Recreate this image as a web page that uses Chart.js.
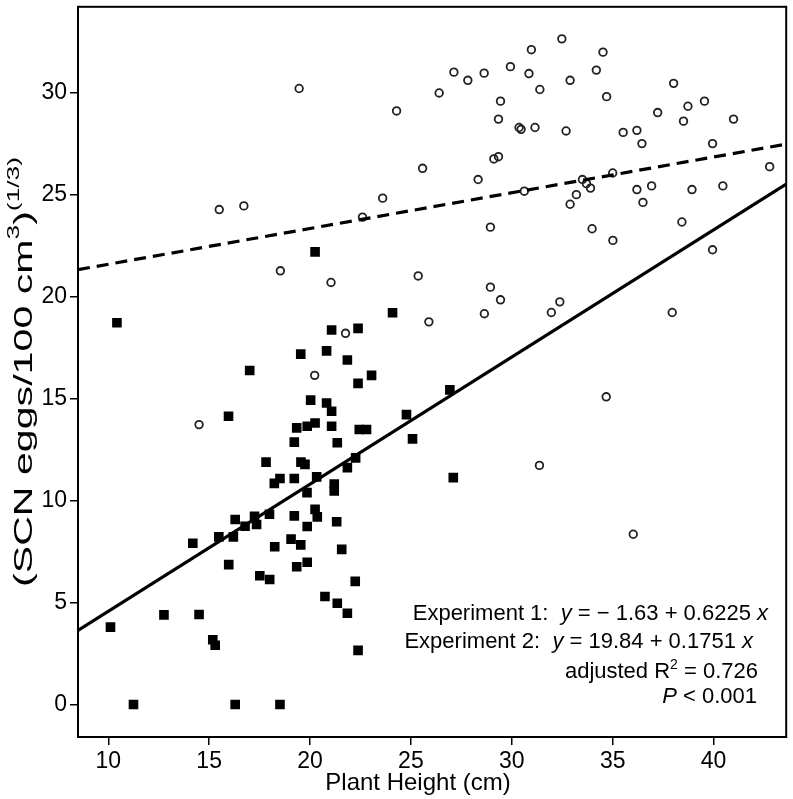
<!DOCTYPE html>
<html>
<head>
<meta charset="utf-8">
<script src="https://cdn.jsdelivr.net/npm/chart.js@4.4.0/dist/chart.umd.min.js"></script>
<style>
  body { margin: 0; background: #fff; }
  #wrap { position: relative; width: 793px; height: 799px; }
</style>
</head>
<body>
<div id="wrap"><canvas id="scnChart"></canvas></div>
<script>
// Experiment 1 (filled squares)
var exp1X = [10.43, 20.25, 24.09, 21.07, 22.38, 19.54, 20.82, 21.85, 17.01, 23.05,
  22.38, 20.03, 20.82, 21.07, 15.96, 26.93, 24.78, 19.34, 19.86, 20.25,
  21.07, 22.44, 22.8, 25.08, 19.22, 21.35, 17.82, 19.55, 19.75, 22.26,
  21.85, 18.51, 18.23, 19.22, 20.33, 21.2, 21.2, 19.85, 27.1, 10.11,
  11.25, 12.76, 14.5, 14.19, 15.18, 15.3, 16.29, 18.51, 15.97, 15.48,
  16.2, 16.29, 16.78, 17.25, 17.35, 17.99, 19.22, 20.25, 20.36, 21.32,
  19.86, 18.25, 19.06, 19.54, 21.57, 17.51, 18.0, 19.34, 19.86, 22.24,
  20.74, 21.35, 21.85, 22.38];
var exp1Y = [18.73, 22.2, 19.22, 18.37, 18.45, 17.19, 17.35, 16.9, 16.39, 16.15,
  15.76, 14.94, 14.8, 14.39, 14.15, 15.44, 14.23, 13.58, 13.66, 13.82,
  13.66, 13.5, 13.5, 13.04, 12.88, 12.85, 11.9, 11.9, 11.79, 12.11,
  11.63, 11.1, 10.86, 11.1, 11.18, 10.83, 10.49, 10.41, 11.14, 3.82,
  0.03, 4.42, 4.44, 7.93, 3.2, 2.93, 0.03, 0.03, 6.88, 8.24,
  8.24, 9.09, 8.76, 9.25, 8.85, 9.35, 9.27, 9.59, 9.22, 8.98,
  8.75, 7.76, 8.13, 7.85, 7.63, 6.34, 6.15, 6.78, 7.0, 6.06,
  5.32, 4.99, 4.5, 2.68];

// Experiment 2 (open circles)
var exp2X = [24.29, 26.4, 27.13, 27.82, 28.63, 29.93, 30.97, 30.85, 31.39, 29.44,
  29.34, 30.36, 30.46, 31.15, 32.48, 32.89, 32.69, 34.19, 34.52, 34.7,
  35.52, 36.2, 36.45, 37.23, 38.02, 38.73, 38.51, 39.55, 40.99, 39.95,
  42.78, 40.46, 38.93, 38.43, 39.95, 36.93, 36.2, 36.5, 35.01, 33.98,
  35.0, 33.5, 33.7, 33.9, 33.2, 32.89, 30.62, 29.11, 29.34, 28.33,
  25.58, 23.6, 28.94, 25.36, 28.94, 29.44, 32.38, 19.46, 22.6, 18.53,
  21.04, 15.5, 16.72, 25.89, 21.76, 20.23, 14.5, 28.64, 31.96, 37.95,
  34.68, 31.37, 36.02];
var exp2Y = [29.1, 29.98, 31.0, 30.6, 30.95, 31.27, 32.1, 30.93, 30.15, 29.58,
  28.7, 28.29, 28.2, 28.29, 32.63, 30.6, 28.12, 31.1, 31.98, 29.8,
  28.05, 28.15, 27.5, 29.02, 30.45, 29.33, 28.6, 29.58, 28.7, 27.5,
  26.37, 25.43, 25.25, 23.66, 22.3, 25.43, 25.25, 24.62, 22.76, 23.33,
  26.06, 25.74, 25.54, 25.32, 25.0, 24.53, 25.17, 26.75, 26.86, 25.74,
  26.29, 24.83, 23.41, 21.02, 20.47, 19.85, 19.75, 30.2, 23.9, 21.27,
  20.7, 24.27, 24.45, 18.77, 18.21, 16.15, 13.74, 19.17, 19.23, 19.23,
  15.1, 11.74, 8.37];

// fitted lines [intercept, slope]
var fit1 = [-1.63, 0.6225];
var fit2 = [19.84, 0.1751];

var xRange = [8.5, 43.6];
var yRange = [-1.56, 34.2];
var xTicks = [10, 15, 20, 25, 30, 35, 40];
var yTicks = [0, 5, 10, 15, 20, 25, 30];

var FONT = '"Liberation Sans", Arial, sans-serif';

function toPoints(xs, ys) {
  return xs.map(function (x, i) { return { x: x, y: ys[i] }; });
}
function fitLine(f) {
  return xRange.map(function (x) { return { x: x, y: f[0] + f[1] * x }; });
}

// draw a row of text runs: [text, style, size, rise]
function drawRuns(ctx, runs, x, y, align) {
  var widths = runs.map(function (r) {
    ctx.font = (r[1] || '') + ' ' + r[2] + 'px ' + FONT;
    return ctx.measureText(r[0]).width;
  });
  var total = widths.reduce(function (a, b) { return a + b; }, 0);
  var cx = align === 'right' ? x - total : (align === 'center' ? x - total / 2 : x);
  runs.forEach(function (r, i) {
    ctx.font = (r[1] || '') + ' ' + r[2] + 'px ' + FONT;
    ctx.fillText(r[0], cx, y - (r[3] || 0));
    cx += widths[i];
  });
  return total;
}

var framePlugin = {
  id: 'frame',
  afterDraw: function (chart) {
    var a = chart.chartArea, ctx = chart.ctx;
    ctx.save();
    ctx.strokeStyle = '#000';
    ctx.lineWidth = 2;
    ctx.strokeRect(a.left, a.top, a.right - a.left, a.bottom - a.top);
    ctx.restore();
  }
};

var textPlugin = {
  id: 'texts',
  afterDraw: function (chart) {
    var ctx = chart.ctx;
    ctx.save();
    ctx.fillStyle = '#000';
    ctx.textBaseline = 'alphabetic';
    var s = 22;
    drawRuns(ctx, [['Experiment 1:  ', '', s], ['y', 'italic', s], [' = \u2212 1.63 + 0.6225 ', '', s], ['x', 'italic', s]], 768, 620, 'right');
    drawRuns(ctx, [['Experiment 2:  ', '', s], ['y', 'italic', s], [' = 19.84 + 0.1751 ', '', s]], 742, 648, 'right');
    drawRuns(ctx, [['x', 'italic', s]], 742, 648, 'left');
    drawRuns(ctx, [['adjusted R', '', s], ['2', '', 14, 9], [' = 0.726', '', s]], 758, 678, 'right');
    drawRuns(ctx, [['P', 'italic', s], [' < 0.001', '', s]], 757, 703, 'right');

    // x axis title
    ctx.textBaseline = 'middle';
    drawRuns(ctx, [['Plant Height (cm)', '', 24]], 418, 783, 'center');

    // y axis title, rotated
    var runs = [['(SCN eggs/100 cm', '', 25], ['3', '', 16, 10], [')', '', 25], ['(1/3)', '', 16, 10]];
    ctx.translate(25, 372);
    ctx.rotate(-Math.PI / 2);
    var w = 0;
    runs.forEach(function (r) { ctx.font = r[2] + 'px ' + FONT; w += ctx.measureText(r[0]).width; });
    ctx.scale(430 / w, 1);
    drawRuns(ctx, runs, 0, 0, 'center');
    ctx.restore();
  }
};

var ctx = document.getElementById('scnChart').getContext('2d');
var scnChart = new Chart(ctx, {
  type: 'scatter',
  data: {
    datasets: [{
      label: 'Experiment 1 fit',
      data: fitLine(fit1),
      showLine: true,
      borderColor: '#000',
      borderWidth: 3.2,
      pointRadius: 0,
      order: 0
    }, {
      label: 'Experiment 2 fit',
      data: fitLine(fit2),
      showLine: true,
      borderColor: '#000',
      borderWidth: 3.2,
      borderDash: [12, 7],
      pointRadius: 0,
      order: 0
    }, {
      label: 'Experiment 1',
      data: toPoints(exp1X, exp1Y),
      pointStyle: 'rect',
      pointRadius: 6.8,
      backgroundColor: '#000',
      borderWidth: 0,
      order: 1
    }, {
      label: 'Experiment 2',
      data: toPoints(exp2X, exp2Y),
      pointStyle: 'circle',
      pointRadius: 3.8,
      backgroundColor: 'rgba(0,0,0,0)',
      borderColor: '#222',
      borderWidth: 1.8,
      order: 2
    }]
  },
  options: {
    responsive: true,
    maintainAspectRatio: false,
    animation: false,
    layout: { padding: { top: 3, right: 6, left: 0, bottom: 0 } },
    plugins: {
      legend: { display: false },
      tooltip: { enabled: false }
    },
    scales: {
      x: {
        type: 'linear',
        min: xRange[0],
        max: xRange[1],
        afterBuildTicks: function (scale) {
          scale.ticks = xTicks.map(function (v) { return { value: v }; });
        },
        afterFit: function (scale) {
          scale.height = 62;
          scale.paddingLeft = 0;
          scale.paddingRight = 0;
        },
        grid: { drawOnChartArea: false, drawTicks: true, tickLength: 8, color: '#000', lineWidth: 1.5 },
        border: { display: true, color: '#000', width: 2 },
        ticks: { color: '#000', padding: 3, maxRotation: 0, font: { family: FONT, size: 23 } }
      },
      y: {
        type: 'linear',
        min: yRange[0],
        max: yRange[1],
        afterBuildTicks: function (scale) {
          scale.ticks = yTicks.map(function (v) { return { value: v }; });
        },
        afterFit: function (scale) {
          scale.width = 78;
          scale.paddingTop = 0;
          scale.paddingBottom = 0;
        },
        grid: { drawOnChartArea: false, drawTicks: true, tickLength: 8, color: '#000', lineWidth: 1.5 },
        border: { display: true, color: '#000', width: 2 },
        ticks: { color: '#000', padding: 3, font: { family: FONT, size: 23 } }
      }
    }
  },
  plugins: [framePlugin, textPlugin]
});
</script>
</body>
</html>
